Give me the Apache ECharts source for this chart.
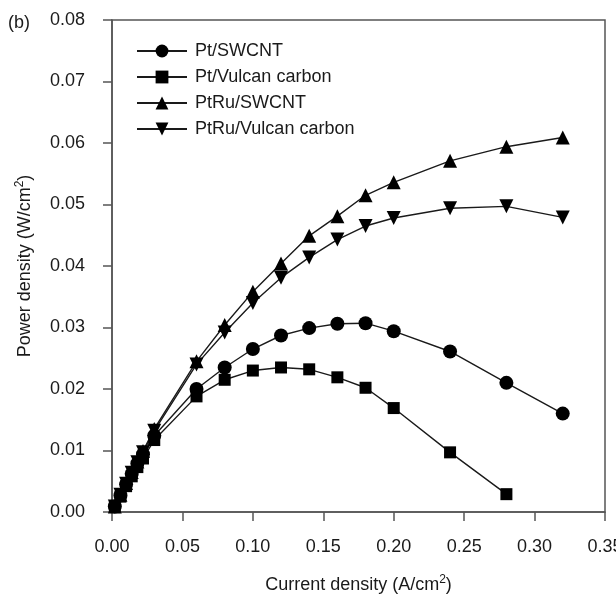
<!DOCTYPE html>
<html>
<head>
<meta charset="utf-8">
<script src="https://cdn.jsdelivr.net/npm/echarts@6/dist/echarts.min.js"></script>
<style>
  html, body { margin: 0; padding: 0; background: #fff; }
  #chart { width: 616px; height: 600px; }
</style>
</head>
<body>
<div id="chart"></div>
<script>
// data
var seriesNames = ['Pt/SWCNT', 'Pt/Vulcan carbon', 'PtRu/SWCNT', 'PtRu/Vulcan carbon'];
var currentDensity = [0.002, 0.006, 0.010, 0.014, 0.018, 0.022, 0.030, 0.06, 0.08, 0.10, 0.12, 0.14, 0.16, 0.18, 0.20, 0.24, 0.28, 0.32];
var currentPtVulcan = [0.002, 0.006, 0.010, 0.014, 0.018, 0.022, 0.030, 0.06, 0.08, 0.10, 0.12, 0.14, 0.16, 0.18, 0.20, 0.24, 0.28];

var powerPtSwcnt = [0.0009, 0.0027, 0.0045, 0.0062, 0.0079, 0.0094, 0.0124, 0.0200, 0.0235, 0.0265, 0.0287, 0.0299, 0.0306, 0.0307, 0.0294, 0.0261, 0.0210, 0.0160];
var powerPtVulcan = [0.0008, 0.0025, 0.0042, 0.0058, 0.0073, 0.0087, 0.0117, 0.0188, 0.0215, 0.0230, 0.0235, 0.0232, 0.0219, 0.0202, 0.0169, 0.0097, 0.0029];
var powerPtRuSwcnt = [0.0009, 0.0028, 0.0047, 0.0065, 0.0082, 0.0099, 0.0135, 0.0245, 0.0304, 0.0358, 0.0404, 0.0449, 0.0481, 0.0515, 0.0536, 0.0571, 0.0594, 0.0609];
var powerPtRuVulcan = [0.0009, 0.0028, 0.0046, 0.0064, 0.0081, 0.0097, 0.0132, 0.0240, 0.0292, 0.0340, 0.0381, 0.0414, 0.0443, 0.0465, 0.0478, 0.0494, 0.0497, 0.0479];

var xTicks = { min: 0, max: 0.35, interval: 0.05 };
var yTicks = { min: 0, max: 0.08, interval: 0.01 };

function pairs(xs, ys) {
    var out = [];
    for (var i = 0; i < ys.length; i++) {
        out.push([xs[i], ys[i]]);
    }
    return out;
}

var font = 'Liberation Sans, Arial, sans-serif';
var ink = '#1a1a1a';
var axisGrey = '#555';

function makeSeries(name, xs, ys, symbol, size, rotate) {
    return {
        name: name,
        type: 'line',
        data: pairs(xs, ys),
        symbol: symbol,
        symbolSize: size,
        symbolRotate: rotate || 0,
        showAllSymbol: true,
        animation: false,
        itemStyle: { color: '#000', borderWidth: 0 },
        lineStyle: { color: ink, width: 1.4 }
    };
}

var dom = document.getElementById('chart');
var myChart = echarts.init(dom, null, { renderer: 'canvas' });

var option = {
    backgroundColor: '#fff',
    animation: false,
    textStyle: { fontFamily: font },
    title: {
        text: '(b)',
        left: 3,
        top: 9,
        textStyle: { fontFamily: font, fontSize: 18, fontWeight: 'normal', color: ink }
    },
    legend: {
        orient: 'vertical',
        left: 131,
        top: 37,
        itemWidth: 50,
        itemHeight: 16,
        itemGap: 8,
        data: seriesNames,
        textStyle: { fontFamily: font, fontSize: 18, lineHeight: 18, color: ink, padding: [0, 0, 0, 3] }
    },
    grid: {
        left: 112,
        right: 11,
        top: 20,
        bottom: 88,
        show: true,
        borderColor: axisGrey,
        borderWidth: 1.5,
        containLabel: false,
        outerBoundsMode: 'none'
    },
    xAxis: {
        type: 'value',
        min: xTicks.min,
        max: xTicks.max,
        interval: xTicks.interval,
        name: 'Current density (A/cm{sup|2})',
        nameLocation: 'middle',
        nameGap: 62,
        nameTextStyle: {
            fontFamily: font, fontSize: 18, color: ink,
            rich: { sup: { fontSize: 12, verticalAlign: 'top', padding: [0, 0, 10, 0], color: ink } }
        },
        splitLine: { show: false },
        axisLine: { show: true, lineStyle: { color: axisGrey, width: 1.5 } },
        axisTick: { show: true, inside: false, length: 9, lineStyle: { color: axisGrey, width: 1.5 } },
        axisLabel: {
            margin: 26,
            fontFamily: font,
            fontSize: 18,
            color: ink,
            formatter: function (v) { return v.toFixed(2); }
        }
    },
    yAxis: {
        type: 'value',
        min: yTicks.min,
        max: yTicks.max,
        interval: yTicks.interval,
        name: 'Power density (W/cm{sup|2})',
        nameLocation: 'middle',
        nameGap: 76,
        nameTextStyle: {
            fontFamily: font, fontSize: 18, color: ink,
            rich: { sup: { fontSize: 12, verticalAlign: 'top', padding: [0, 0, 10, 0], color: ink } }
        },
        splitLine: { show: false },
        axisLine: { show: true, lineStyle: { color: axisGrey, width: 1.5 } },
        axisTick: { show: true, inside: false, length: 9, lineStyle: { color: axisGrey, width: 1.5 } },
        axisLabel: {
            margin: 27,
            fontFamily: font,
            fontSize: 18,
            color: ink,
            formatter: function (v) { return v.toFixed(2); }
        }
    },
    series: [
        makeSeries(seriesNames[0], currentDensity, powerPtSwcnt, 'circle', 14),
        makeSeries(seriesNames[1], currentPtVulcan, powerPtVulcan, 'rect', 12),
        makeSeries(seriesNames[2], currentDensity, powerPtRuSwcnt, 'triangle', 14),
        makeSeries(seriesNames[3], currentDensity, powerPtRuVulcan, 'triangle', 14, 180)
    ]
};

if (option && typeof option === 'object') {
    myChart.setOption(option);
}
</script>
</body>
</html>
